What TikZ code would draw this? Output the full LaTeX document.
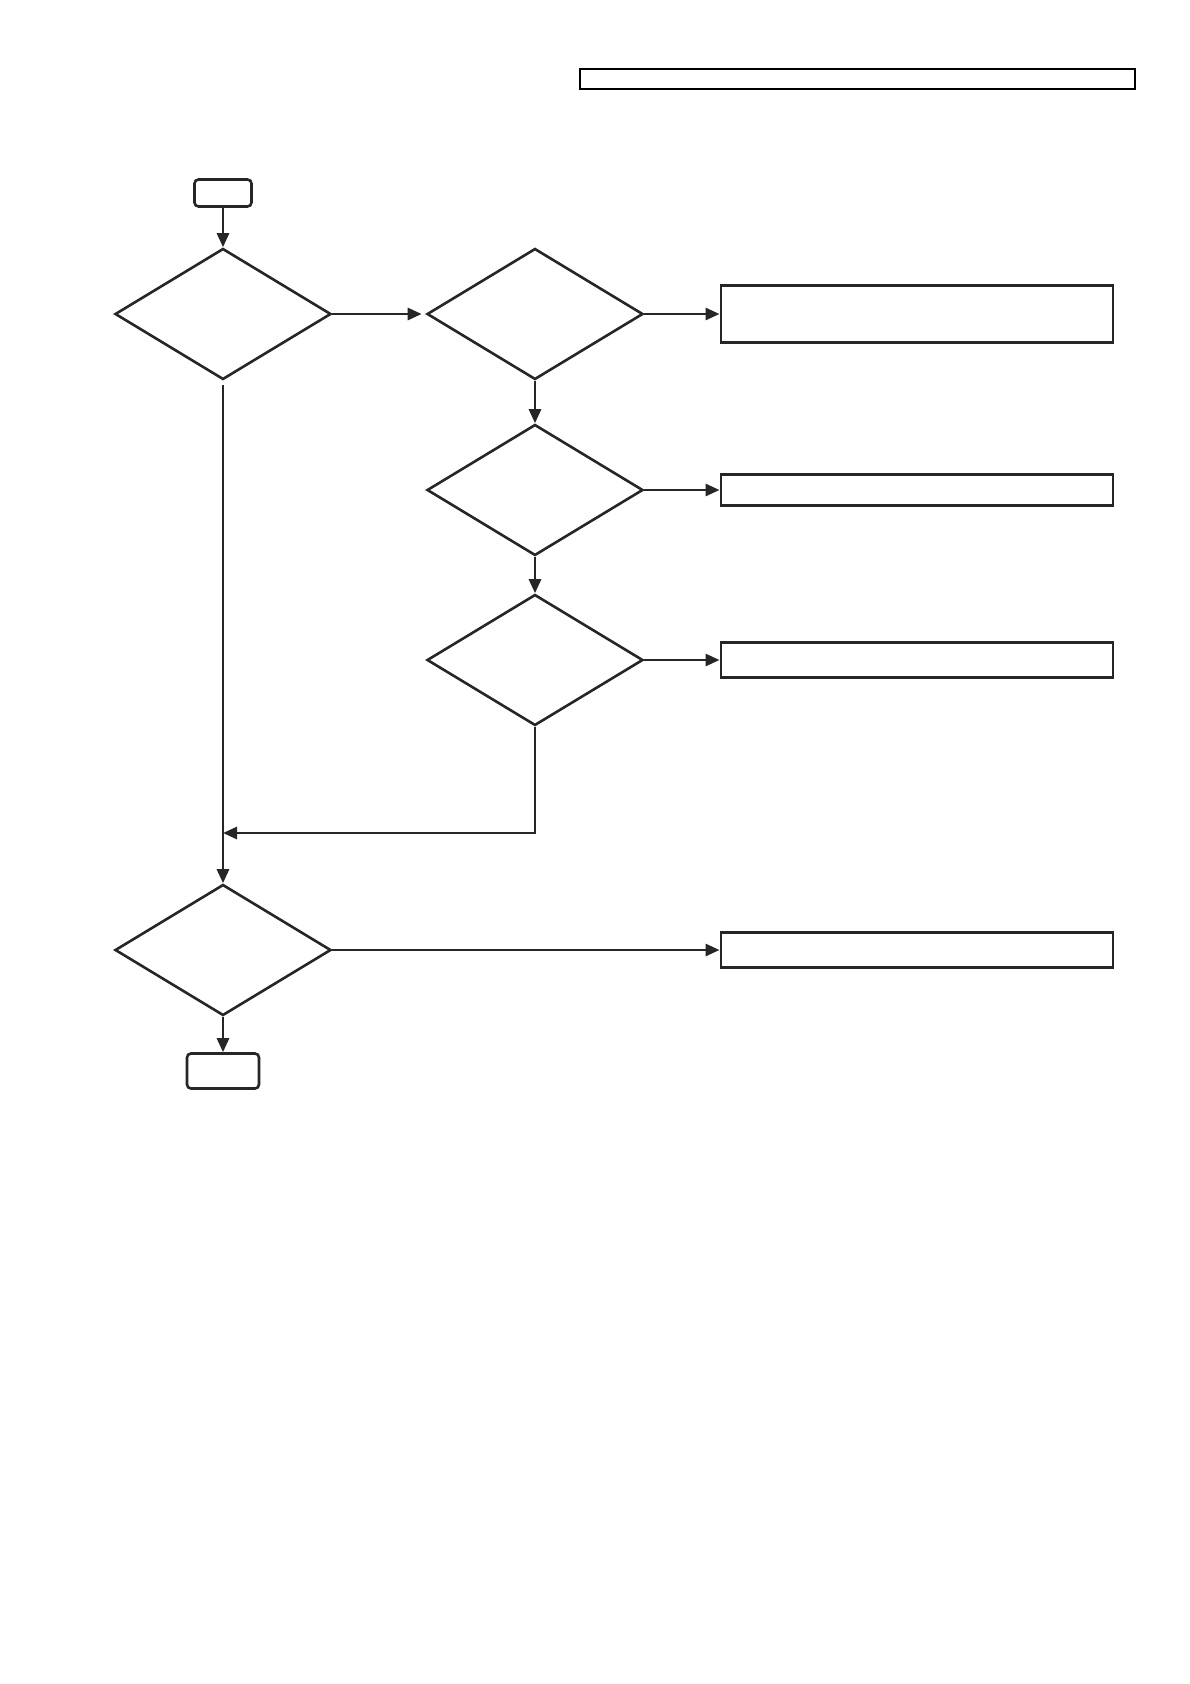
\documentclass[tikz,border=0pt]{standalone}
\usetikzlibrary{shapes.geometric,arrows.meta}
\begin{document}
\begin{tikzpicture}[x=1pt,y=-1pt,
  dec/.style={draw=black!85, line width=2.6pt, diamond, inner sep=0pt, minimum width=216pt, minimum height=131pt},
  boxn/.style={draw=black!85, line width=2.9pt, rectangle, inner sep=0pt, minimum width=392pt},
  term/.style={draw=black!85, line width=2.6pt, rectangle, rounded corners=4pt, inner sep=0pt},
  arr/.style={draw=black!85, line width=2.8pt, -{Triangle[length=14pt,width=12pt]}}]
\useasboundingbox[fill=white] (0,0) rectangle (1190,1684);
\node[draw=black, line width=1.5pt, rectangle, inner sep=0pt, minimum width=555pt, minimum height=20pt] (title) at (857.5,79) {};
\node[term, minimum width=57pt, minimum height=27pt] (start) at (223,193) {};
\node[dec] (d1) at (223,314) {};
\node[dec] (d2) at (535,314) {};
\node[boxn, minimum height=57pt] (b1) at (917,314) {};
\node[dec] (d3) at (535,490) {};
\node[boxn, minimum height=31pt] (b2) at (917,490) {};
\node[dec] (d4) at (535,660) {};
\node[boxn, minimum height=35pt] (b3) at (917,660) {};
\node[dec] (d5) at (223,950) {};
\node[boxn, minimum height=35pt] (b4) at (917,950) {};
\node[term, minimum width=72pt, minimum height=35pt] (end) at (223,1071) {};
\coordinate (m) at (223,833);
\draw[arr] (start.south) -- (d1.north);
\draw[arr, shorten >=4pt] (d1.east) -- (d2.west);
\draw[arr] (d2.east) -- (b1.west);
\draw[arr] (d2.south) -- (d3.north);
\draw[arr] (d3.east) -- (b2.west);
\draw[arr] (d3.south) -- (d4.north);
\draw[arr] (d4.east) -- (b3.west);
\draw[arr] (d4.south) |- (m);
\draw[arr, shorten <=4pt] (d1.south) -- (d5.north);
\draw[arr] (d5.east) -- (b4.west);
\draw[arr] (d5.south) -- (end.north);
\end{tikzpicture}
\end{document}
